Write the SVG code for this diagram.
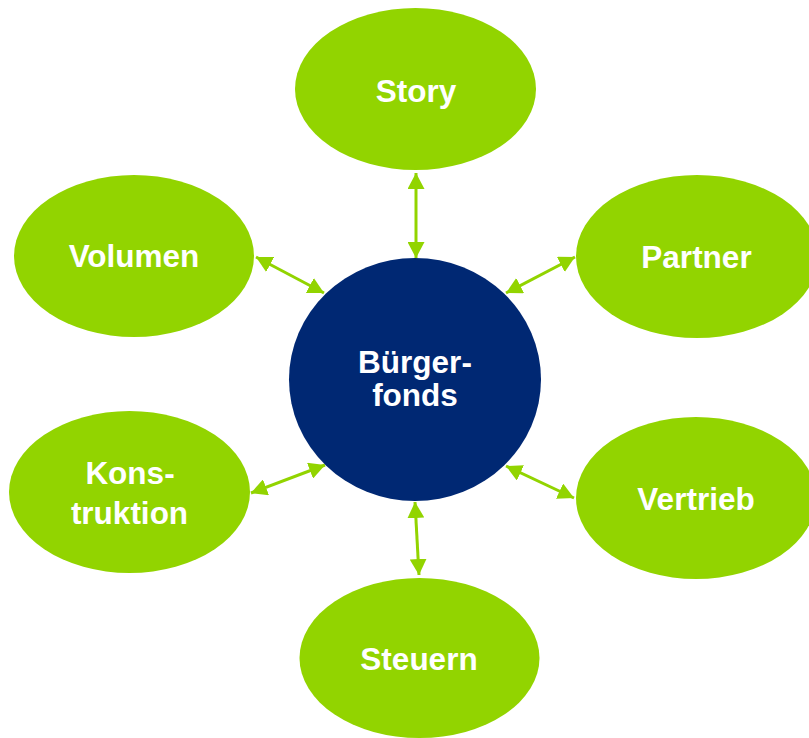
<svg xmlns="http://www.w3.org/2000/svg" width="809" height="738" viewBox="0 0 809 738">
<style>
.leaf{fill:#92D400;}
.hub{fill:#002873;}
.lbl{font-family:"Liberation Sans",Arial,sans-serif;font-weight:bold;font-size:31.5px;fill:#ffffff;text-anchor:middle;}
.conn{stroke:#92D400;stroke-width:3;fill:none;marker-start:url(#ah);marker-end:url(#ah);}
</style>
<defs>
<marker id="ah" markerUnits="userSpaceOnUse" markerWidth="16" markerHeight="17" refX="16" refY="8.5" orient="auto-start-reverse" viewBox="0 0 16 17">
<path d="M0,0 L16,8.5 L0,17 z" fill="#92D400"/>
</marker>
</defs>
<rect width="809" height="738" fill="#ffffff"/>
<g id="connectors">
<line class="conn" x1="416" y1="173" x2="416" y2="258"/>
<line class="conn" x1="256" y1="257" x2="324" y2="293"/>
<line class="conn" x1="575" y1="257" x2="506" y2="293"/>
<line class="conn" x1="251" y1="493" x2="325" y2="465"/>
<line class="conn" x1="506" y1="466" x2="574" y2="498"/>
<line class="conn" x1="415" y1="502" x2="419" y2="575"/>
</g>
<g id="story">
<ellipse class="leaf" cx="415.5" cy="89" rx="120.5" ry="81"/>
<text class="lbl" x="416" y="102">Story</text>
</g>
<g id="volumen">
<ellipse class="leaf" cx="134" cy="256" rx="120" ry="81"/>
<text class="lbl" x="134" y="267">Volumen</text>
</g>
<g id="partner">
<ellipse class="leaf" cx="697" cy="256.5" rx="121" ry="81.5"/>
<text class="lbl" x="696.5" y="268">Partner</text>
</g>
<g id="konstruktion">
<ellipse class="leaf" cx="129.5" cy="492" rx="120.5" ry="81"/>
<text class="lbl" x="130" y="483.5">Kons-</text>
<text class="lbl" x="129.5" y="523.5">truktion</text>
</g>
<g id="vertrieb">
<ellipse class="leaf" cx="696" cy="498" rx="120" ry="81"/>
<text class="lbl" x="696" y="510">Vertrieb</text>
</g>
<g id="steuern">
<ellipse class="leaf" cx="419.5" cy="658" rx="120" ry="80"/>
<text class="lbl" x="419" y="670">Steuern</text>
</g>
<g id="buergerfonds">
<ellipse class="hub" cx="415" cy="379.5" rx="126" ry="121.5"/>
<text class="lbl" x="415" y="373">Bürger-</text>
<text class="lbl" x="415" y="406">fonds</text>
</g>
</svg>
